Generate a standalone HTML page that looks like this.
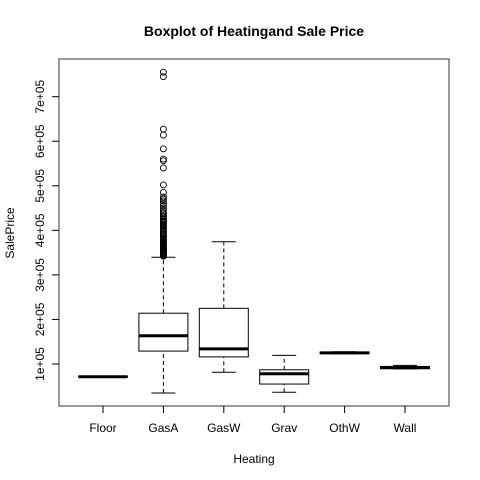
<!DOCTYPE html>
<html><head><meta charset="utf-8"><style>body{margin:0;background:#fff}svg{display:block;font-family:"Liberation Sans",sans-serif}</style></head>
<body>
<svg id="chart" width="480" height="480"></svg>
<script>
const categories=["Floor","GasA","GasW","Grav","OthW","Wall"];
const lowWhisker=[71500,35000,81500,36500,123000,89000];
const q1=[71500,129000,116000,55000,123500,89500];
const medians=[71500,163500,134000,78000,125000,92000];
const q3=[72500,214000,225000,87000,127000,94500];
const highWhisker=[72500,339500,374500,119500,127500,97000];
const gasAOutliers=[342000,344000,345000,346000,348000,350000,352000,354000,355000,357000,359000,360000,362000,364000,366000,368000,370000,372000,375000,377000,380000,382000,385000,387000,390000,392000,395000,398000,400000,403000,405000,408000,410000,413000,415000,418000,420000,423000,425000,430000,433000,437000,440000,445000,450000,455000,460000,466000,470000,475000,485000,502000,540000,556000,560000,583000,614000,627000,745000,755000];
const yTicks=[100000,200000,300000,400000,500000,600000,700000];
const yTickLabels=["1e+05","2e+05","3e+05","4e+05","5e+05","6e+05","7e+05"];
const svg=document.getElementById('chart');const NS='http://www.w3.org/2000/svg';
function y(v){return 364-(v-100000)/100000*44.55;}
function x(i){return 103+60.4*i;}
function mk(t,a,p){const e=document.createElementNS(NS,t);for(const k in a)e.setAttribute(k,a[k]);(p||svg).appendChild(e);return e;}
function txt(s,a){const e=mk('text',a);e.textContent=s;return e;}
let e;
e=mk('rect',{x:59,y:59,width:390,height:347,fill:'none',stroke:'#333','stroke-width':1});

e=txt('Boxplot of Heatingand Sale Price',{x:254,y:36,'text-anchor':'middle','font-size':14,'font-weight':'bold'});

e=txt('Heating',{x:254,y:463,'text-anchor':'middle','font-size':12});

e=txt('SalePrice',{x:14,y:233,'text-anchor':'middle','font-size':12,transform:'rotate(-90 14 233)'});

yTicks.forEach((v,i)=>{const g=mk('g',{});
mk('line',{x1:52,x2:59,y1:y(v),y2:y(v),stroke:'#000'},g);
const t=mk('text',{x:44,y:y(v),'text-anchor':'middle','font-size':12,transform:`rotate(-90 44 ${y(v)})`},g);t.textContent=yTickLabels[i];});
categories.forEach((c,i)=>{const cx=x(i),hw=24.5;
const g=mk('g',{});
mk('line',{x1:cx,x2:cx,y1:406,y2:413,stroke:'#000'},g);
const t=mk('text',{x:cx,y:432,'text-anchor':'middle','font-size':12},g);t.textContent=c;
mk('line',{x1:cx,x2:cx,y1:y(lowWhisker[i]),y2:y(q1[i]),stroke:'#000','stroke-dasharray':'4,3'},g);
mk('line',{x1:cx,x2:cx,y1:y(q3[i]),y2:y(highWhisker[i]),stroke:'#000','stroke-dasharray':'4,3'},g);
mk('line',{x1:cx-12,x2:cx+12,y1:y(lowWhisker[i]),y2:y(lowWhisker[i]),stroke:'#000'},g);
mk('line',{x1:cx-12,x2:cx+12,y1:y(highWhisker[i]),y2:y(highWhisker[i]),stroke:'#000'},g);
mk('rect',{x:cx-hw,y:y(q3[i]),width:2*hw,height:Math.max(0,y(q1[i])-y(q3[i])),fill:'#fff',stroke:'#000'},g);
mk('line',{x1:cx-hw,x2:cx+hw,y1:y(medians[i]),y2:y(medians[i]),stroke:'#000','stroke-width':3},g);});
gasAOutliers.forEach(v=>{const c=mk('circle',{cx:x(1),cy:y(v),r:3,fill:'none',stroke:'#000','stroke-width':0.9});
});
</script>
</body></html>
